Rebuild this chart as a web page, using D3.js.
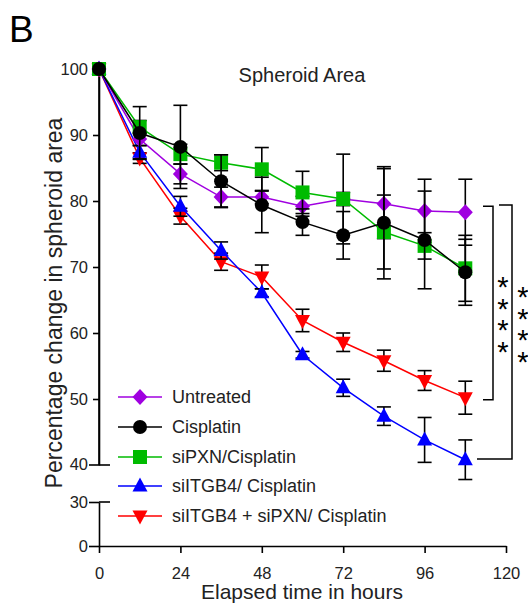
<!DOCTYPE html>
<html>
<head>
<meta charset="utf-8">
<script src="https://cdn.jsdelivr.net/npm/d3@7"></script>
<style>
  body { margin: 0; background: #fff; }
  text { font-family: "Liberation Sans", Arial, sans-serif; fill: #222; }
</style>
</head>
<body>
<svg id="chart" width="528" height="603"></svg>
<script>
// elapsed time (hours)
const hours = [0, 12, 24, 36, 48, 60, 72, 84, 96, 108];

// mean % change in spheroid area, with error bars
const untreated      = [100, 89.4, 84.1, 80.6, 80.6, 79.2, 80.3, 79.6, 78.5, 78.3];
const untreatedErr   = [0, 1.0, 1.5, 1.5, 1.0, 1.5, 1.0, 5.3, 4.8, 5.0];
const cisplatin      = [100, 90.3, 88.2, 83.0, 79.4, 76.8, 74.8, 76.7, 74.1, 69.2];
const cisplatinErr   = [0, 4.0, 6.3, 4.0, 4.2, 2.0, 3.6, 8.5, 7.4, 5.0];
const siPXN          = [100, 91.2, 87.1, 85.8, 84.8, 81.3, 80.3, 75.3, 73.2, 69.8];
const siPXNErr       = [0, 1.0, 1.5, 1.2, 3.3, 3.2, 6.8, 5.6, 2.0, 5.0];
const siITGB4        = [100, 87.4, 79.2, 72.5, 66.1, 56.7, 51.7, 47.4, 43.8, 40.8];
const siITGB4Err     = [0, 1.0, 1.5, 1.3, 0.6, 0.5, 1.3, 1.4, 3.4, 3.0];
const siITGB4siPXN   = [100, 86.5, 77.7, 70.8, 68.5, 61.9, 58.6, 55.8, 52.8, 50.2];
const siITGB4siPXNErr= [0, 0.8, 1.2, 1.3, 1.8, 1.7, 1.4, 1.6, 1.5, 2.5];

const seriesNames = ["Untreated", "Cisplatin", "siPXN/Cisplatin", "siITGB4/ Cisplatin", "siITGB4 + siPXN/ Cisplatin"];
const yTicksTop = [50, 60, 70, 80, 90, 100];
const yTicksBottom = [0, 30];
const xTicks = [0, 24, 48, 72, 96, 120];

const series = [
    { name: seriesNames[0], colour: "#a000e0", marker: "diamond",  values: untreated,    errors: untreatedErr },
    { name: seriesNames[1], colour: "#000000", marker: "circle",   values: cisplatin,    errors: cisplatinErr },
    { name: seriesNames[2], colour: "#00bb00", marker: "square",   values: siPXN,        errors: siPXNErr },
    { name: seriesNames[3], colour: "#0000ff", marker: "triangle", values: siITGB4,      errors: siITGB4Err },
    { name: seriesNames[4], colour: "#ff0000", marker: "triangleDown", values: siITGB4siPXN, errors: siITGB4siPXNErr }
];
// draw order as in the figure (black on top)
const drawOrder = [4, 3, 0, 2, 1];

const svg = d3.select("#chart");

const x = d3.scaleLinear().domain([0, 120]).range([99, 506]);
const yTop = d3.scaleLinear().domain([40, 100]).range([465, 69]);
const yBottom = d3.scaleLinear().domain([0, 30]).range([546, 502]);

function markerPath(type) {
    switch (type) {
        case "diamond": return "M0,-8L7.5,0L0,8L-7.5,0Z";
        case "circle": return "M7,0A7,7 0 1,1 -7,0A7,7 0 1,1 7,0Z";
        case "square": return "M-7,-7H7V7H-7Z";
        case "triangle": return "M0,-8.5L7.5,5.5L-7.5,5.5Z";
        case "triangleDown": return "M0,8.5L7.5,-5.5L-7.5,-5.5Z";
    }
}

// panel letter + title
svg.append("text").attr("x", 9).attr("y", 42).style("font-size", "37px").style("fill", "#000").text("B");
svg.append("text").attr("x", 302).attr("y", 82).attr("text-anchor", "middle")
    .style("font-size", "20px").text("Spheroid Area");

// axes
const axisStyle = g => {
    g.selectAll("path, line").attr("stroke", "#000").attr("stroke-width", 1.6);
    g.selectAll("text").style("font-size", "16.5px").attr("fill", "#222").style("font-family", "Liberation Sans, Arial, sans-serif");
};

svg.append("g")
    .attr("transform", "translate(99,0)")
    .call(d3.axisLeft(yTop).tickValues(yTicksTop).tickSize(6).tickSizeOuter(0).tickPadding(5))
    .call(axisStyle);

svg.append("g")
    .attr("transform", "translate(99,0)")
    .call(d3.axisLeft(yBottom).tickValues(yTicksBottom).tickSize(10).tickSizeOuter(0).tickPadding(1))
    .call(axisStyle);

// break ticks at 40 and 30 cross the axis
svg.append("line").attr("x1", 89).attr("x2", 110).attr("y1", yTop(40)).attr("y2", yTop(40))
    .attr("stroke", "#000").attr("stroke-width", 1.6);
svg.append("line").attr("x1", 99).attr("x2", 110).attr("y1", yBottom(30)).attr("y2", yBottom(30))
    .attr("stroke", "#000").attr("stroke-width", 1.6);
svg.append("text").attr("x", 88).attr("y", yTop(40)).attr("dy", "0.32em").attr("text-anchor", "end")
    .style("font-size", "16.5px").text("40");
svg.append("line").attr("x1", 99).attr("x2", 99).attr("y1", yTop(40)).attr("y2", yTop(100))
    .attr("stroke", "#000").attr("stroke-width", 1.6);

svg.append("g")
    .attr("transform", `translate(0,${yBottom(0)})`)
    .call(d3.axisBottom(x).tickValues(xTicks).tickSize(7).tickSizeOuter(0).tickPadding(14))
    .call(axisStyle);

// axis titles
svg.append("text").attr("x", 302).attr("y", 599).attr("text-anchor", "middle")
    .style("font-size", "21px").text("Elapsed time in hours");
svg.append("text").attr("transform", "translate(62,303) rotate(-90)").attr("text-anchor", "middle")
    .style("font-size", "23px").text("Percentage change in spheroid area");

// series
const line = d3.line().x((d, i) => x(hours[i])).y(d => yTop(d));

drawOrder.forEach(k => {
    const s = series[k];
    const g = svg.append("g").attr("class", "series");

    g.append("path")
        .datum(s.values)
        .attr("d", line)
        .attr("fill", "none")
        .attr("stroke", s.colour)
        .attr("stroke-width", 1.5);

    const eb = g.selectAll(".err")
        .data(s.values.map((v, i) => ({ h: hours[i], v, e: s.errors[i] })).filter(d => d.e > 0))
        .enter().append("g").attr("class", "err");
    eb.append("line")
        .attr("x1", d => x(d.h)).attr("x2", d => x(d.h))
        .attr("y1", d => yTop(d.v + d.e)).attr("y2", d => yTop(d.v - d.e))
        .attr("stroke", "#000").attr("stroke-width", 1.6);
    [1, -1].forEach(sign => {
        eb.append("line")
            .attr("x1", d => x(d.h) - 7).attr("x2", d => x(d.h) + 7)
            .attr("y1", d => yTop(d.v + sign * d.e)).attr("y2", d => yTop(d.v + sign * d.e))
            .attr("stroke", "#000").attr("stroke-width", 1.6);
    });

    g.selectAll(".mk")
        .data(s.values)
        .enter().append("path")
        .attr("class", "mk")
        .attr("transform", (d, i) => `translate(${x(hours[i])},${yTop(d)})`)
        .attr("d", markerPath(s.marker))
        .attr("fill", s.colour);
});

// legend
const legendRows = [397, 427, 457, 486, 516];
series.forEach((s, i) => {
    const ly = legendRows[i];
    svg.append("line").attr("x1", 118).attr("x2", 162).attr("y1", ly).attr("y2", ly)
        .attr("stroke", s.colour).attr("stroke-width", 1.5);
    svg.append("path").attr("transform", `translate(140,${ly})`).attr("d", markerPath(s.marker)).attr("fill", s.colour);
    svg.append("text").attr("x", 172).attr("y", ly).attr("dy", "0.36em")
        .style("font-size", "18px").text(s.name);
});

// significance brackets; stars stacked vertically as one text run
const bracket = (top, bottom, xTopStart, xBottomStart, xv, starX, starTop) => {
    svg.append("path")
        .attr("d", `M${xTopStart},${top}H${xv}V${bottom}H${xBottomStart}`)
        .attr("fill", "none").attr("stroke", "#000").attr("stroke-width", 1.5);
    svg.append("text")
        .attr("x", starX).attr("y", starTop)
        .style("writing-mode", "vertical-rl")
        .style("text-orientation", "upright")
        .style("letter-spacing", "-10.5px")
        .style("font-size", "29px").style("fill", "#000")
        .text("****");
};
bracket(yTop(79.2), yTop(49.9), 483, 483, 493, 503, 271);
bracket(yTop(79.4), yTop(40.9), 499, 477, 512, 523, 281);
</script>
</body>
</html>
